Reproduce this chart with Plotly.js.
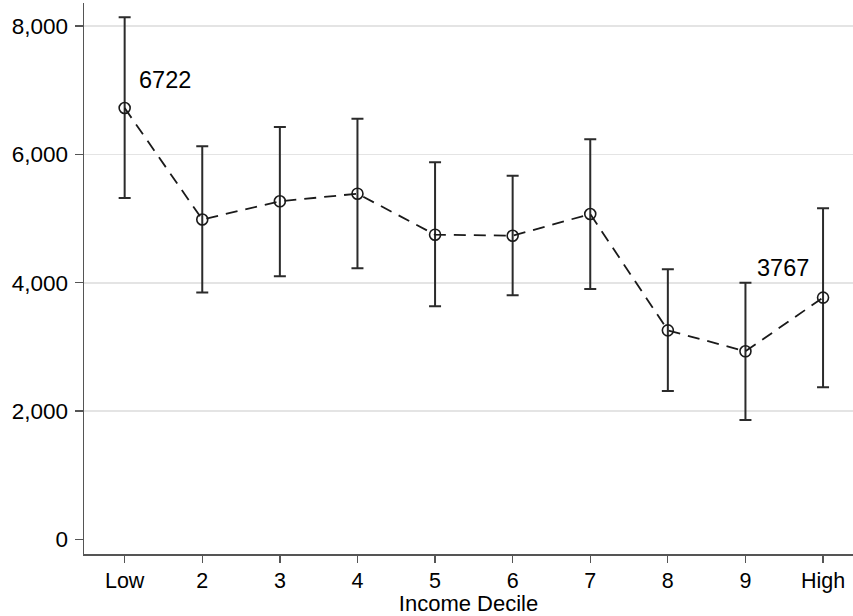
<!DOCTYPE html>
<html>
<head>
<meta charset="utf-8">
<script src="https://cdn.plot.ly/plotly-3.0.1.min.js"></script>
<style>
  html, body { margin: 0; padding: 0; background: #fff; }
  #chart { width: 853px; height: 616px; }
</style>
</head>
<body>
<div id="chart"></div>
<script>
// Income deciles
const deciles = ["Low", "2", "3", "4", "5", "6", "7", "8", "9", "High"];
// Point estimates
const means = [6722, 4985, 5268, 5387, 4748, 4732, 5070, 3257, 2930, 3767];
// 95% confidence bounds
const ciUpper = [8136, 6125, 6426, 6556, 5876, 5667, 6234, 4208, 3997, 5159];
const ciLower = [5320, 3847, 4099, 4224, 3632, 3803, 3901, 2311, 1859, 2369];
// Y-axis ticks
const yTicks = [0, 2000, 4000, 6000, 8000];
const gridTicks = [2000, 4000, 6000, 8000];

const FONT = "Liberation Sans, Arial, sans-serif";
const yRange = [-229, 8359];

const trace = {
  type: "scatter",
  mode: "lines+markers",
  x: deciles,
  y: means,
  line: { color: "#1a1a1a", width: 1.8, dash: "12px,8px" },
  marker: { symbol: "circle-open", size: 11, color: "#1a1a1a", line: { width: 1.6 } },
  error_y: {
    type: "data",
    symmetric: false,
    array: ciUpper.map((u, i) => u - means[i]),
    arrayminus: ciLower.map((l, i) => means[i] - l),
    color: "#2b2b2b",
    thickness: 2,
    width: 6
  },
  hoverinfo: "x+y",
  showlegend: false
};

// Value labels on the first and last decile
const labelIdx = [0, deciles.length - 1];
const annotations = [
  {
    x: deciles[labelIdx[0]], y: means[labelIdx[0]],
    text: String(means[labelIdx[0]]),
    showarrow: false, xanchor: "left", yanchor: "middle",
    xshift: 12, yshift: 28,
    font: { family: FONT, size: 23.5, color: "#000" }
  },
  {
    x: deciles[labelIdx[1]], y: means[labelIdx[1]],
    text: String(means[labelIdx[1]]),
    showarrow: false, xanchor: "right", yanchor: "middle",
    xshift: -12, yshift: 30,
    font: { family: FONT, size: 23.5, color: "#000" }
  }
];

const layout = {
  width: 853,
  height: 616,
  margin: { l: 84, r: 0, t: 3, b: 62 },
  paper_bgcolor: "#fff",
  plot_bgcolor: "#fff",
  font: { family: FONT, color: "#000", size: 21 },
  separators: ".,",
  xaxis: {
    type: "category",
    range: [-0.524, 9.386],
    showgrid: false,
    zeroline: false,
    showline: true,
    linecolor: "#555",
    linewidth: 1.5,
    ticks: "outside",
    ticklen: 7,
    tickwidth: 1.3,
    tickcolor: "#555",
    tickfont: { family: FONT, size: 21.5, color: "#000" },
    title: { text: "Income Decile", font: { family: FONT, size: 22, color: "#000" }, standoff: 1 },
    fixedrange: true
  },
  yaxis: {
    range: yRange,
    tickvals: yTicks,
    tickformat: ",d",
    showgrid: false,
    zeroline: false,
    showline: true,
    linecolor: "#555",
    linewidth: 1.5,
    ticks: "outside",
    ticklen: 8,
    tickwidth: 1.3,
    tickcolor: "#555",
    ticklabelstandoff: 2,
    tickfont: { family: FONT, size: 22.5, color: "#000" },
    fixedrange: true
  },
  // Horizontal gridlines (none at zero)
  yaxis2: {
    overlaying: "y",
    range: yRange,
    tickvals: gridTicks,
    showgrid: true,
    gridcolor: "#e4e4e4",
    gridwidth: 1.7,
    showticklabels: false,
    ticks: "",
    zeroline: false,
    showline: false,
    fixedrange: true
  },
  annotations: annotations
};

// invisible trace so the grid axis is drawn
const gridTrace = { type: "scatter", x: [deciles[0]], y: [null], yaxis: "y2", showlegend: false, hoverinfo: "skip" };

Plotly.newPlot("chart", [gridTrace, trace], layout, { displayModeBar: false, staticPlot: true });
</script>
</body>
</html>
